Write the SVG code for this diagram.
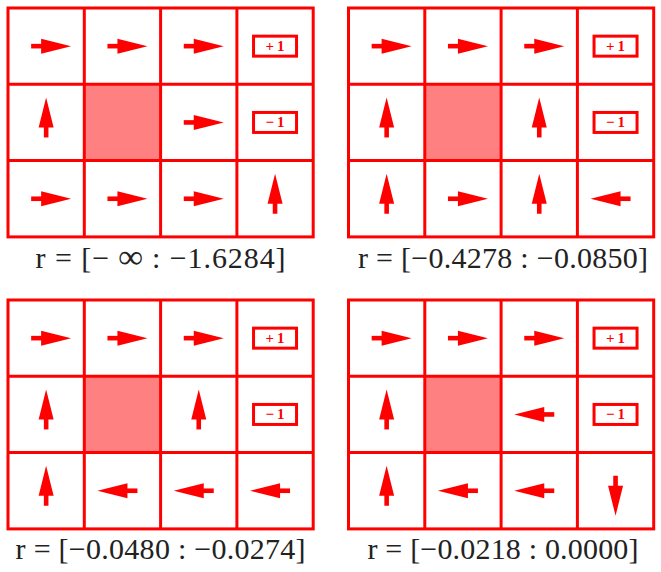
<svg xmlns="http://www.w3.org/2000/svg" xmlns:xlink="http://www.w3.org/1999/xlink" width="661" height="572" viewBox="0 0 661 572">
<style>
.bg{fill:#ffffff}
.wall{fill:#ff8080;stroke:none}
.grid{fill:none;stroke:#ff0000;stroke-width:3}
.arrow{fill:#ff0000}
.rbox{fill:#ffffff;stroke:#ff0000;stroke-width:3}
.rtxt{font-family:'Times New Roman','Liberation Serif',Times,serif;font-size:15px;font-weight:bold;fill:#ff0000;text-anchor:middle;letter-spacing:3px}
.lbl{font-family:'Times New Roman','Liberation Serif',Times,serif;font-size:30px;fill:#222222;text-anchor:middle}
</style>
<defs>
<g id="arr" class="arrow">
<rect x="-15" y="-2.3" width="12" height="4.6"/>
<polygon points="-5,-7.5 25,0 -5,7.5"/>
</g>
<g id="plus">
<rect class="rbox" x="-21.5" y="-10" width="43" height="20"/>
<text class="rtxt" x="1.5" y="5">+1</text>
</g>
<g id="minus">
<rect class="rbox" x="-21.5" y="-10" width="43" height="20"/>
<text class="rtxt" x="1.5" y="5">−1</text>
</g>
<g id="frame">
<rect class="bg" x="0" y="0" width="305.2" height="228.9"/>
<rect class="wall" x="76.3" y="76.3" width="76.3" height="76.3"/>
<path class="grid" d="M76.3 0V228.9M152.6 0V228.9M228.9 0V228.9M0 76.3H305.2M0 152.6H305.2"/>
<rect class="grid" x="0" y="0" width="305.2" height="228.9"/>
<use xlink:href="#plus" transform="translate(267.05,38.15)"/>
<use xlink:href="#minus" transform="translate(267.05,114.45)"/>
</g>
</defs>

<g id="panel1" transform="translate(8,8)">
<use xlink:href="#frame"/>
<g id="p1-arrows">
<use xlink:href="#arr" transform="translate(38.15,38.15)"/>
<use xlink:href="#arr" transform="translate(114.45,38.15)"/>
<use xlink:href="#arr" transform="translate(190.75,38.15)"/>
<use xlink:href="#arr" transform="translate(38.15,114.45) rotate(-90)"/>
<use xlink:href="#arr" transform="translate(190.75,114.45)"/>
<use xlink:href="#arr" transform="translate(38.15,190.75)"/>
<use xlink:href="#arr" transform="translate(114.45,190.75)"/>
<use xlink:href="#arr" transform="translate(190.75,190.75)"/>
<use xlink:href="#arr" transform="translate(267.05,190.75) rotate(-90)"/>
</g>
</g>
<text id="label1" class="lbl" x="160.6" y="268" textLength="250" lengthAdjust="spacing">r = [− <tspan font-weight="bold" font-size="34">∞</tspan> : −1.6284]</text>

<g id="panel2" transform="translate(348.5,8)">
<use xlink:href="#frame"/>
<g id="p2-arrows">
<use xlink:href="#arr" transform="translate(38.15,38.15)"/>
<use xlink:href="#arr" transform="translate(114.45,38.15)"/>
<use xlink:href="#arr" transform="translate(190.75,38.15)"/>
<use xlink:href="#arr" transform="translate(38.15,114.45) rotate(-90)"/>
<use xlink:href="#arr" transform="translate(190.75,114.45) rotate(-90)"/>
<use xlink:href="#arr" transform="translate(38.15,190.75) rotate(-90)"/>
<use xlink:href="#arr" transform="translate(114.45,190.75)"/>
<use xlink:href="#arr" transform="translate(190.75,190.75) rotate(-90)"/>
<use xlink:href="#arr" transform="translate(267.05,190.75) rotate(180)"/>
</g>
</g>
<text id="label2" class="lbl" x="503" y="268" textLength="290" lengthAdjust="spacing">r = [−0.4278 : −0.0850]</text>

<g id="panel3" transform="translate(8,300)">
<use xlink:href="#frame"/>
<g id="p3-arrows">
<use xlink:href="#arr" transform="translate(38.15,38.15)"/>
<use xlink:href="#arr" transform="translate(114.45,38.15)"/>
<use xlink:href="#arr" transform="translate(190.75,38.15)"/>
<use xlink:href="#arr" transform="translate(38.15,114.45) rotate(-90)"/>
<use xlink:href="#arr" transform="translate(190.75,114.45) rotate(-90)"/>
<use xlink:href="#arr" transform="translate(38.15,190.75) rotate(-90)"/>
<use xlink:href="#arr" transform="translate(114.45,190.75) rotate(180)"/>
<use xlink:href="#arr" transform="translate(190.75,190.75) rotate(180)"/>
<use xlink:href="#arr" transform="translate(267.05,190.75) rotate(180)"/>
</g>
</g>
<text id="label3" class="lbl" x="160.6" y="559" textLength="290" lengthAdjust="spacing">r = [−0.0480 : −0.0274]</text>

<g id="panel4" transform="translate(348.5,300)">
<use xlink:href="#frame"/>
<g id="p4-arrows">
<use xlink:href="#arr" transform="translate(38.15,38.15)"/>
<use xlink:href="#arr" transform="translate(114.45,38.15)"/>
<use xlink:href="#arr" transform="translate(190.75,38.15)"/>
<use xlink:href="#arr" transform="translate(38.15,114.45) rotate(-90)"/>
<use xlink:href="#arr" transform="translate(190.75,114.45) rotate(180)"/>
<use xlink:href="#arr" transform="translate(38.15,190.75) rotate(-90)"/>
<use xlink:href="#arr" transform="translate(114.45,190.75) rotate(180)"/>
<use xlink:href="#arr" transform="translate(190.75,190.75) rotate(180)"/>
<use xlink:href="#arr" transform="translate(267.05,190.75) rotate(90)"/>
</g>
</g>
<text id="label4" class="lbl" x="503" y="559" textLength="271" lengthAdjust="spacing">r = [−0.0218 : 0.0000]</text>
</svg>
